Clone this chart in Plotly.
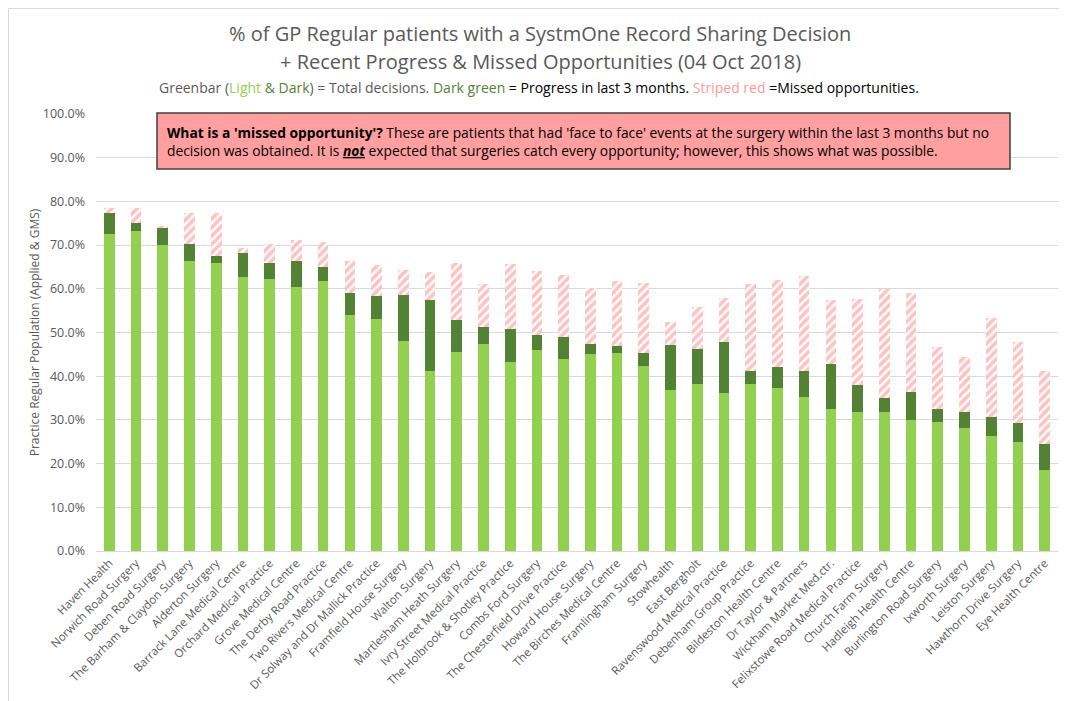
import numpy as np
import plotly.graph_objects as go

practices = [
    "Haven Health", "Norwich Road Surgery", "Deben Road Surgery", "The Barham & Claydon Surgery",
    "Alderton Surgery", "Barrack Lane Medical Centre", "Orchard Medical Practice", "Grove Medical Centre",
    "The Derby Road Practice", "Two Rivers Medical Centre", "Dr Solway and Dr Mallick Practice",
    "Framfield House Surgery", "Walton Surgery", "Martlesham Heath Surgery", "Ivry Street Medical Practice",
    "The Holbrook & Shotley Practice", "Combs Ford Surgery", "The Chesterfield Drive Practice",
    "Howard House Surgery", "The Birches Medical Centre", "Framlingham Surgery", "Stowhealth",
    "East Bergholt", "Ravenswood Medical Practice", "Debenham Group Practice", "Bildeston Health Centre",
    "Dr Taylor & Partners", "Wickham Market Med.ctr.", "Felixstowe Road Medical Practice",
    "Church Farm Surgery", "Hadleigh Health Centre", "Burlington Road Surgery", "Ixworth Surgery",
    "Leiston Surgery", "Hawthorn Drive Surgery", "Eye Health Centre",
]

# % with a decision before the last 3 months (light green top)
earlier_pct = [72.5, 73.2, 70.0, 66.4, 65.8, 62.6, 62.2, 60.4, 61.8, 54.1, 53.1, 48.0, 41.2, 45.6,
               47.3, 43.3, 46.1, 44.0, 45.0, 45.2, 42.3, 36.8, 38.2, 36.2, 38.2, 37.2, 35.3, 32.4,
               31.9, 31.9, 29.9, 29.5, 28.2, 26.4, 24.9, 18.6]
# % total decisions (dark green top)
total_pct = [77.3, 75.1, 73.8, 70.2, 67.6, 68.3, 65.8, 66.4, 65.0, 59.0, 58.3, 58.5, 57.5, 52.8,
             51.2, 50.7, 49.4, 49.0, 47.3, 46.9, 45.2, 47.2, 46.2, 47.9, 41.3, 42.0, 41.2, 42.8,
             37.9, 34.9, 36.4, 32.4, 31.9, 30.7, 29.2, 24.4]
# % possible if missed opportunities had been taken (striped top)
possible_pct = [78.4, 78.4, 74.3, 77.3, 77.3, 69.4, 70.2, 71.2, 70.8, 66.3, 65.4, 64.3, 63.9, 66.0,
                61.2, 65.7, 64.1, 63.1, 60.1, 61.7, 61.4, 52.4, 55.9, 58.0, 61.2, 62.0, 62.9, 57.4,
                57.7, 60.0, 59.1, 46.7, 44.4, 53.3, 47.8, 41.2]

earlier = np.array(earlier_pct) / 100
progress = (np.array(total_pct) - np.array(earlier_pct)) / 100
missed = (np.array(possible_pct) - np.array(total_pct)) / 100

FONT = "Open Sans"
GREY = "#595959"
LIGHT = "#92D050"
DARK = "#548235"
PINK = "#FF9999"

fig = go.Figure()
fig.add_bar(x=practices, y=earlier, marker=dict(color=LIGHT, line=dict(width=0)), name="Earlier decisions")
fig.add_bar(x=practices, y=progress, marker=dict(color=DARK, line=dict(width=0)), name="Progress in last 3 months")
fig.add_bar(x=practices, y=missed, name="Missed opportunities",
            marker=dict(color="white", line=dict(width=0),
                        pattern=dict(shape="/", fgcolor="#FF8585", bgcolor="white", size=6, solidity=0.6)))

# helpers: screen pixel -> paper coordinates (plot area spans x 96..1058, y 114..551 on screen)
def py(pix):
    return (551 - pix) / 437

def px(pix):
    return (pix - 96) / 962

annotations = [
    dict(text="% of GP Regular patients with a SystmOne Record Sharing Decision",
         x=px(540), y=py(34), xref="paper", yref="paper", showarrow=False,
         font=dict(family=FONT, size=20, color=GREY), xanchor="center", yanchor="middle"),
    dict(text="+ Recent Progress & Missed Opportunities (04 Oct 2018)",
         x=px(540), y=py(62), xref="paper", yref="paper", showarrow=False,
         font=dict(family=FONT, size=20, color=GREY), xanchor="center", yanchor="middle"),
    dict(text=("Greenbar (<span style='color:%s'>Light</span> <span style='color:%s'>&</span> <span style='color:%s'>Dark</span>) = Total decisions. "
               "<span style='color:%s'>Dark green</span><span style='color:#000000'> = Progress in last 3 months. </span>"
               "<span style='color:%s'>Striped red</span><span style='color:#000000'> =Missed opportunities.</span>")
              % (LIGHT, DARK, DARK, DARK, PINK),
         x=px(539), y=py(87), xref="paper", yref="paper", showarrow=False,
         font=dict(family=FONT, size=14, color=GREY), xanchor="center", yanchor="middle"),
    dict(text=("<b>What is a 'missed opportunity'?</b> These are patients that had 'face to face' events at the surgery within the last 3 months but no<br>"
               "decision was obtained. It is <b><i><u>not</u></i></b> expected that surgeries catch every opportunity; however, this shows what was possible."),
         x=px(165), y=py(141), xref="paper", yref="paper", showarrow=False, align="left",
         font=dict(family=FONT, size=13.8, color="#000000"), xanchor="left", yanchor="middle"),
]

shapes = [
    dict(type="rect", xref="paper", yref="paper", x0=px(157), x1=px(1010), y0=py(169), y1=py(113),
         fillcolor="#FF9F9F", line=dict(color="#404040", width=1.5), layer="above"),
    dict(type="line", xref="paper", yref="paper", x0=px(8.5), x1=px(8.5), y0=py(701), y1=py(8.5),
         line=dict(color="#D9D9D9", width=1)),
    dict(type="line", xref="paper", yref="paper", x0=px(8.5), x1=px(1067), y0=py(8.5), y1=py(8.5),
         line=dict(color="#D9D9D9", width=1)),
]

# page body has an 8px margin, so the figure is drawn 8px lower/right: compensate
fig.update_layout(
    barmode="stack",
    bargap=0.6,
    width=1059, height=693,
    margin=dict(l=88, r=9, t=106, b=150),
    paper_bgcolor="white", plot_bgcolor="white",
    showlegend=False,
    font=dict(family=FONT, color=GREY),
    annotations=annotations,
    shapes=shapes,
)
fig.update_xaxes(tickangle=-45, tickfont=dict(family=FONT, size=11.5, color=GREY),
                 showline=True, linecolor="#D9D9D9", linewidth=1, showgrid=False, ticks="",
                 automargin=False)
fig.update_yaxes(range=[0, 1.0], dtick=0.1, tickformat=".1%", showgrid=True, gridcolor="#D9D9D9",
                 gridwidth=1, zeroline=False, tickfont=dict(family=FONT, size=12.5, color=GREY),
                 ticklabelstandoff=10, automargin=False,
                 title=dict(text="Practice Regular Population (Applied & GMS)",
                            font=dict(family=FONT, size=12, color=GREY), standoff=0))

fig.write_html("out.html")
